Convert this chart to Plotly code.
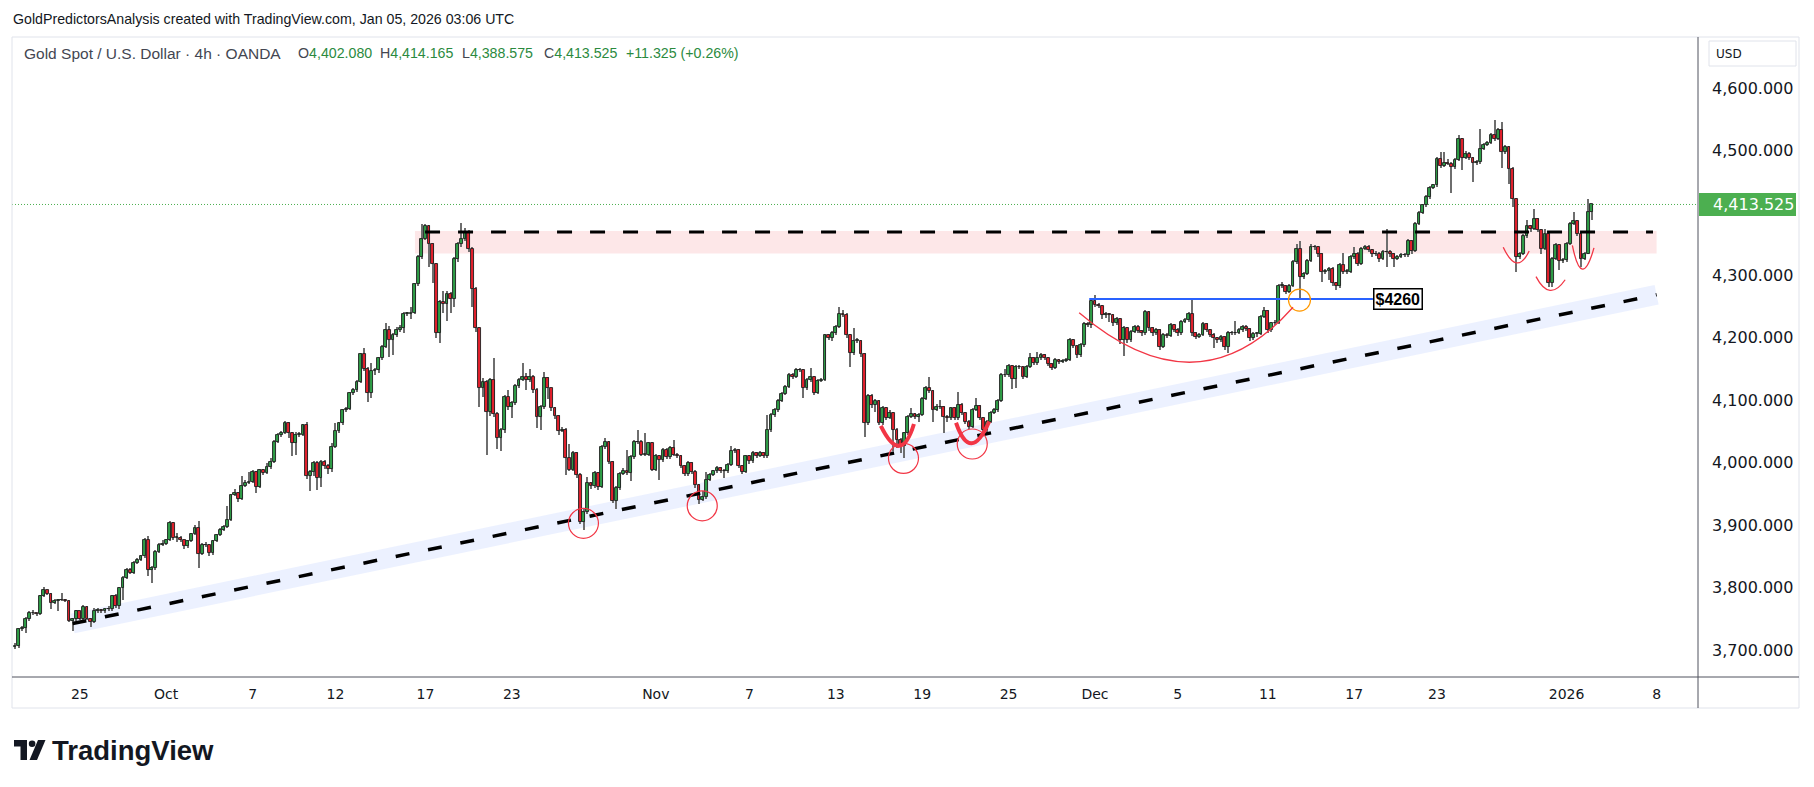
import plotly.graph_objects as go

# ---------------- data (4h candles, bar index = position) ----------------
first_open = 3705.0
close = [
3707,3733,3735,3749,3759,3759,3757,3786,3796,3790,
3776,3778,3780,3781,3779,3747,3749,3762,3750,3769,
3750,3745,3762,3764,3762,3765,3766,3786,3771,3799,
3816,3829,3824,3840,3845,3850,3877,3828,3831,3857,
3869,3870,3876,3903,3880,3880,3876,3866,3875,3886,
3895,3854,3868,3868,3855,3875,3884,3893,3897,3909,
3948,3951,3942,3963,3968,3969,3985,3961,3988,3984,
3993,4001,4034,4044,4048,4063,4048,4031,4045,4045,
4060,3978,3985,3999,3975,4001,3994,3990,4025,4051,
4063,4084,4086,4111,4116,4130,4174,4150,4112,4147,
4148,4167,4185,4213,4197,4204,4213,4215,4238,4238,
4240,4286,4329,4359,4379,4350,4318,4208,4257,4254,
4270,4262,4326,4350,4358,4370,4343,4278,4215,4119,
4130,4082,4133,4078,4040,4052,4105,4089,4095,4123,
4133,4138,4132,4138,4117,4073,4089,4135,4120,4087,
4075,4051,4053,4007,3989,4015,3981,3905,3921,3967,
3962,3983,3961,4025,4033,4001,3939,3959,3982,3986,
3984,4009,4033,4034,4013,4013,4031,3989,4011,4004,
4021,4009,4023,4013,4011,3995,3982,3999,3985,3964,
3941,3945,3973,3980,3986,3991,3987,3986,3996,4019,
4020,3995,3985,4010,4002,4015,4011,4015,4010,4052,
4076,4084,4099,4110,4122,4141,4137,4148,4148,4120,
4132,4137,4112,4131,4133,4204,4199,4207,4217,4238,
4237,4204,4176,4195,4195,4174,4063,4107,4092,4099,
4064,4088,4072,4080,4053,4036,4026,4047,4074,4078,
4073,4077,4102,4120,4115,4085,4090,4089,4073,4071,
4087,4071,4093,4079,4066,4058,4085,4091,4071,4052,
4066,4080,4084,4099,4140,4141,4155,4134,4154,4153,
4137,4154,4167,4159,4168,4172,4168,4158,4152,4164,
4161,4163,4165,4196,4187,4172,4188,4222,4221,4259,
4253,4251,4236,4238,4236,4223,4230,4196,4216,4196,
4210,4218,4211,4207,4241,4215,4207,4212,4186,4204,
4203,4220,4213,4207,4225,4228,4238,4207,4202,4205,
4222,4212,4205,4199,4196,4201,4185,4208,4207,4208,
4212,4218,4214,4199,4206,4206,4233,4243,4212,4223,
4224,4283,4283,4274,4283,4321,4343,4297,4302,4323,
4345,4345,4334,4306,4307,4311,4287,4283,4317,4306,
4306,4329,4335,4319,4343,4346,4340,4334,4335,4326,
4338,4337,4334,4326,4330,4333,4332,4355,4339,4383,
4400,4412,4425,4440,4444,4486,4475,4480,4479,4473,
4485,4518,4488,4495,4488,4480,4481,4503,4509,4512,
4525,4518,4533,4497,4505,4471,4422,4330,4335,4363,
4379,4374,4390,4373,4342,4367,4288,4327,4349,4323,
4324,4350,4382,4387,4367,4326,4334,4402.08,4413.525]
high = [
3711,3736,3739,3753,3762,3764,3760,3788,3801,3797,
3791,3782,3782,3791,3782,3780,3752,3764,3763,3772,
3771,3751,3768,3767,3766,3768,3771,3788,3790,3801,
3818,3831,3831,3843,3847,3852,3879,3882,3834,3860,
3871,3876,3878,3906,3905,3887,3882,3877,3877,3888,
3901,3907,3871,3873,3870,3877,3886,3896,3900,3931,
3950,3958,3953,3978,3972,3985,3988,3987,3990,3990,
3999,4008,4036,4048,4051,4067,4065,4049,4049,4050,
4062,4065,3988,4002,4003,4004,4004,3998,4031,4064,
4066,4086,4090,4113,4119,4132,4176,4184,4153,4160,
4151,4169,4188,4223,4219,4207,4218,4220,4241,4241,
4250,4288,4332,4382,4382,4381,4352,4320,4260,4275,
4275,4273,4330,4353,4384,4376,4372,4346,4282,4218,
4135,4132,4136,4167,4082,4055,4109,4117,4099,4126,
4136,4159,4143,4150,4140,4119,4092,4145,4138,4113,
4089,4077,4057,4055,4030,4018,4017,3983,3928,3977,
3969,3987,3985,4028,4039,4035,4003,3962,3985,3992,
4020,4012,4036,4053,4036,4047,4034,4033,4014,4013,
4024,4024,4026,4036,4016,4013,3997,4002,4001,3988,
3966,3955,3985,3983,3989,3994,3993,3990,3999,4027,
4024,4022,3997,4013,4012,4018,4017,4018,4017,4076,
4079,4087,4102,4113,4125,4144,4143,4151,4152,4150,
4135,4151,4139,4134,4136,4206,4206,4211,4220,4249,
4245,4239,4206,4216,4199,4197,4176,4110,4110,4102,
4101,4091,4090,4084,4082,4055,4040,4050,4076,4088,
4080,4080,4105,4123,4138,4117,4094,4100,4091,4076,
4090,4090,4113,4095,4081,4068,4088,4104,4093,4073,
4069,4083,4087,4102,4143,4150,4158,4157,4157,4157,
4155,4157,4175,4169,4178,4175,4174,4170,4160,4167,
4166,4166,4168,4199,4198,4189,4191,4225,4226,4262,
4268,4256,4253,4242,4240,4238,4233,4232,4219,4218,
4213,4221,4220,4213,4245,4243,4217,4215,4214,4207,
4207,4223,4222,4215,4228,4232,4241,4263,4210,4208,
4225,4224,4214,4207,4201,4204,4203,4211,4211,4227,
4215,4221,4220,4216,4209,4210,4236,4250,4245,4226,
4228,4286,4290,4285,4286,4324,4350,4355,4305,4326,
4350,4349,4347,4336,4311,4314,4313,4289,4320,4336,
4310,4332,4346,4337,4346,4349,4348,4342,4339,4337,
4341,4375,4340,4336,4333,4336,4336,4358,4357,4386,
4403,4415,4428,4443,4447,4489,4497,4497,4486,4482,
4488,4525,4520,4499,4497,4490,4485,4535,4512,4515,
4528,4549,4536,4545,4508,4507,4473,4424,4338,4366,
4388,4381,4406,4392,4375,4375,4369,4330,4352,4351,
4328,4353,4385,4402,4389,4369,4337,4422,4414.165]
low = [
3701,3704,3730,3728,3747,3756,3755,3756,3785,3788,
3765,3773,3763,3779,3777,3745,3731,3747,3748,3748,
3748,3737,3744,3760,3760,3759,3763,3763,3768,3765,
3781,3814,3822,3822,3838,3842,3848,3819,3807,3829,
3855,3867,3869,3874,3877,3873,3873,3862,3864,3873,
3884,3832,3852,3865,3850,3853,3873,3882,3891,3895,
3907,3946,3937,3940,3961,3966,3967,3951,3959,3980,
3982,3990,3999,4031,4041,4046,4040,4010,4012,4042,
4043,3974,3954,3978,3957,3961,3990,3982,3985,4023,
4048,4060,4082,4084,4108,4114,4128,4147,4098,4103,
4140,4144,4164,4183,4170,4173,4201,4210,4207,4235,
4230,4238,4283,4327,4356,4314,4288,4200,4192,4240,
4227,4240,4250,4322,4346,4355,4338,4250,4210,4090,
4105,4012,4075,4074,4022,4018,4048,4085,4072,4092,
4120,4131,4116,4129,4112,4055,4052,4086,4102,4083,
4070,4045,4049,3981,3986,3987,3976,3902,3893,3918,
3958,3960,3956,3959,4022,3998,3936,3926,3957,3980,
3980,3970,4006,4030,4010,4010,4011,3986,3987,3972,
4001,4006,4006,4010,4008,3992,3979,3979,3982,3960,
3934,3938,3942,3971,3978,3984,3984,3975,3983,3994,
4016,3992,3982,3983,3998,3999,4008,4009,4007,4008,
4050,4074,4082,4097,4108,4120,4134,4135,4145,4104,
4117,4130,4108,4110,4129,4131,4196,4195,4205,4215,
4233,4200,4153,4172,4192,4170,4042,4060,4088,4082,
4060,4061,4068,4070,4018,4023,4015,4007,4044,4072,
4070,4066,4075,4100,4112,4066,4083,4086,4048,4066,
4068,4068,4069,4076,4062,4054,4055,4083,4068,4048,
4050,4064,4078,4082,4097,4137,4138,4118,4119,4150,
4134,4135,4151,4156,4157,4165,4165,4155,4149,4150,
4158,4160,4161,4163,4184,4168,4169,4186,4218,4215,
4249,4247,4230,4232,4226,4219,4220,4190,4171,4192,
4194,4207,4208,4203,4205,4211,4203,4204,4180,4183,
4200,4201,4210,4203,4204,4224,4226,4203,4198,4200,
4203,4209,4201,4183,4192,4194,4181,4176,4204,4205,
4206,4210,4211,4195,4197,4202,4204,4231,4208,4209,
4220,4222,4279,4270,4272,4281,4319,4262,4294,4300,
4321,4340,4330,4290,4303,4293,4283,4277,4280,4302,
4302,4304,4327,4315,4317,4341,4337,4330,4331,4322,
4324,4313,4330,4313,4324,4328,4329,4330,4335,4337,
4381,4398,4410,4423,4438,4442,4472,4473,4476,4432,
4471,4483,4469,4486,4485,4450,4477,4479,4500,4507,
4510,4515,4516,4472,4494,4447,4409,4306,4326,4333,
4360,4370,4372,4369,4335,4340,4282,4282,4325,4308,
4320,4322,4348,4380,4363,4314,4324,4352,4388.575]

tick_index = [18, 42, 66, 89, 114, 138, 178, 204, 228, 252, 276, 300, 323, 348, 372, 395, 431, 456]
tick_label = ["25", "Oct", "7", "12", "17", "23", "Nov", "7", "13", "19", "25", "Dec",
              "5", "11", "17", "23", "2026", "8"]
price_ticks = [3700, 3800, 3900, 4000, 4100, 4200, 4300, 4500, 4600]
last_price = 4413.525
legend_title = "Gold Spot / U.S. Dollar · 4h · OANDA"
legend_keys = ["O", "H", "L", "C"]
legend_values = ["4,402.080", "4,414.165", "4,388.575", "4,413.525"]
legend_change = "+11.325 (+0.26%)"

# drawings: (bar index, price)
trend_line = [(16.0, 3742.5), (456.0, 4269.0)]
zone_box = [(111.1, 4335.0), (456.0, 4371.0)]
zone_line = [(113.9, 4369.5), (455.0, 4369.5)]
level_line = [(298.4, 4262.0), (377.2, 4262.0)]
level_label = (384.3, 4262.0, "$4260")
touch_circles = [(157.9, 3903.0), (190.9, 3931.0), (246.8, 4007.0), (265.9, 4030.0)]
retest_circle = (356.8, 4260.5)
swooshes = [[(240.5, 4059), (245.6, 4027), (249.7, 4062)],
            [(261.4, 4064), (265.7, 4031), (270.6, 4066)]]
arcs = [[(295.6, 4240), (327.0, 4161), (355.0, 4249)],
        [(413.4, 4345), (417.1, 4320), (420.6, 4339)],
        [(422.5, 4298), (426.4, 4276), (430.6, 4293)],
        [(432.6, 4348), (435.4, 4310), (438.6, 4344)]]

# ---------------- geometry ----------------
W, H = 1814, 787
PL, PR, PT, PB = 12, 1698, 37, 677
X_RANGE = [-0.833, 467.5]
Y_RANGE = [3656.9, 4681.7]


def px(x):
    return (x - PL) / (PR - PL)


def py(y):
    return (PB - y) / (PB - PT)


def ypix(price):
    return PB - (price - Y_RANGE[0]) / (Y_RANGE[1] - Y_RANGE[0]) * (PB - PT)


GREEN = "#2e9d47"
RED = "#e3202c"
OUTLINE = "#1f1f1f"
WICK = "#6e6e6e"

n = len(close)
opens = [first_open] + close[:-1]
idx = list(range(n))
hi = [max(h, o, c) for h, o, c in zip(high, opens, close)]
lo = [min(l, o, c) for l, o, c in zip(low, opens, close)]
body_base = [min(o, c) for o, c in zip(opens, close)]
body_h = [max(abs(c - o), 1.0) for o, c in zip(opens, close)]
fills = [GREEN if c >= o else RED for o, c in zip(opens, close)]

fig = go.Figure()
fig.add_trace(go.Bar(x=idx, y=[h - l for h, l in zip(hi, lo)], base=lo, width=0.3,
                     marker=dict(color=WICK, line=dict(width=0)), hoverinfo="skip",
                     showlegend=False))
fig.add_trace(go.Bar(x=idx, y=body_h, base=body_base, width=0.8,
                     marker=dict(color=fills, line=dict(color=OUTLINE, width=0.9)),
                     hoverinfo="skip", showlegend=False))

shapes = []
shapes.append(dict(type="rect", xref="x", yref="y", x0=zone_box[0][0], x1=zone_box[1][0],
                   y0=zone_box[0][1], y1=zone_box[1][1], fillcolor="rgba(242,54,69,0.12)",
                   line=dict(width=0), layer="below"))
shapes.append(dict(type="line", xref="x", yref="y", x0=trend_line[0][0], y0=trend_line[0][1],
                   x1=trend_line[1][0], y1=trend_line[1][1],
                   line=dict(color="rgba(41,98,255,0.09)", width=20), layer="below"))
shapes.append(dict(type="line", xref="paper", yref="paper", x0=0, x1=1,
                   y0=py(ypix(last_price)), y1=py(ypix(last_price)),
                   line=dict(color="#4caf50", width=1, dash="1px,2px"), layer="below"))
shapes.append(dict(type="line", xref="x", yref="y", x0=trend_line[0][0], y0=trend_line[0][1],
                   x1=trend_line[1][0], y1=trend_line[1][1],
                   line=dict(color="#000000", width=3.5, dash="14px,19px"), layer="above"))
shapes.append(dict(type="line", xref="x", yref="y", x0=zone_line[0][0], y0=zone_line[0][1],
                   x1=zone_line[1][0], y1=zone_line[1][1],
                   line=dict(color="#000000", width=3, dash="15px,18px"), layer="above"))
shapes.append(dict(type="line", xref="x", yref="y", x0=level_line[0][0], y0=level_line[0][1],
                   x1=level_line[1][0], y1=level_line[1][1],
                   line=dict(color="#2962ff", width=2), layer="above"))
for cx, cy in touch_circles:
    shapes.append(dict(type="circle", xref="x", yref="y", xsizemode="pixel", ysizemode="pixel",
                       xanchor=cx, yanchor=cy, x0=-15, x1=15, y0=-15, y1=15,
                       line=dict(color="#f23645", width=1.2), layer="above"))
shapes.append(dict(type="circle", xref="x", yref="y", xsizemode="pixel", ysizemode="pixel",
                   xanchor=retest_circle[0], yanchor=retest_circle[1], x0=-11, x1=11, y0=-11, y1=11,
                   line=dict(color="#ff9800", width=1.2), layer="above"))


def bezier(pts):
    (x0, y0), (xb, yb), (x2, y2) = pts
    cx = 2 * xb - 0.5 * (x0 + x2)
    cy = 2 * yb - 0.5 * (y0 + y2)
    return f"M {x0},{y0} Q {cx},{cy} {x2},{y2}"


for s in swooshes:
    shapes.append(dict(type="path", xref="x", yref="y", path=bezier(s),
                       line=dict(color="#f23645", width=4), layer="above"))
for a in arcs:
    shapes.append(dict(type="path", xref="x", yref="y", path=bezier(a),
                       line=dict(color="#f23645", width=1.3), layer="above"))

# pane frame and separators
shapes.append(dict(type="rect", xref="paper", yref="paper", x0=px(12), x1=px(1799), y0=py(708), y1=py(37),
                   line=dict(color="#e0e3eb", width=1), fillcolor="rgba(0,0,0,0)", layer="above"))
shapes.append(dict(type="line", xref="paper", yref="paper", x0=px(PR), x1=px(PR), y0=py(708), y1=py(37),
                   line=dict(color="#50535e", width=1), layer="above"))
shapes.append(dict(type="line", xref="paper", yref="paper", x0=px(12), x1=px(1799), y0=py(PB), y1=py(PB),
                   line=dict(color="#50535e", width=1), layer="above"))
shapes.append(dict(type="rect", xref="paper", yref="paper", x0=px(1709), x1=px(1796), y0=py(66), y1=py(41),
                   line=dict(color="#e0e3eb", width=1), fillcolor="white", layer="above"))
tag_y = ypix(last_price)
shapes.append(dict(type="rect", xref="paper", yref="paper", x0=px(1699), x1=px(1796),
                   y0=py(tag_y + 11.5), y1=py(tag_y - 11.5), fillcolor="#4caf50",
                   line=dict(width=0), layer="above"))
# TradingView logo icon
shapes.append(dict(type="rect", xref="paper", yref="paper", x0=px(14), x1=px(27), y0=py(746.5), y1=py(740),
                   fillcolor="#131722", line=dict(width=0)))
shapes.append(dict(type="rect", xref="paper", yref="paper", x0=px(20.5), x1=px(27), y0=py(760), y1=py(740),
                   fillcolor="#131722", line=dict(width=0)))
shapes.append(dict(type="circle", xref="paper", yref="paper", x0=px(28.8), x1=px(35.4), y0=py(747), y1=py(740.4),
                   fillcolor="#131722", line=dict(width=0)))
shapes.append(dict(type="path", xref="paper", yref="paper",
                   path=f"M {px(38)},{py(740)} L {px(45.5)},{py(740)} L {px(37)},{py(760)} L {px(29.5)},{py(760)} Z",
                   fillcolor="#131722", line=dict(width=0)))

annotations = []
annotations.append(dict(xref="paper", yref="paper", x=px(11), y=py(19), xanchor="left", yanchor="middle",
                        text="GoldPredictorsAnalysis created with TradingView.com, Jan 05, 2026 03:06 UTC",
                        showarrow=False, font=dict(family="Liberation Sans", size=14.2, color="#131722")))
gc = "#2b8a3e"
tc = "#434651"
annotations.append(dict(xref="paper", yref="paper", x=px(22), y=py(53.5), xanchor="left", yanchor="middle",
                        text=legend_title, showarrow=False,
                        font=dict(family="Liberation Sans", size=15.5, color=tc)))
legend_x = [296, 378, 460, 542, 624]
for k, (key, val) in enumerate(zip(legend_keys, legend_values)):
    annotations.append(dict(xref="paper", yref="paper", x=px(legend_x[k]), y=py(53.5), xanchor="left",
                            yanchor="middle", showarrow=False,
                            text=f"<span style='color:{tc}'>{key}</span><span style='color:{gc}'>{val}</span>",
                            font=dict(family="Liberation Sans", size=14.2, color=gc)))
annotations.append(dict(xref="paper", yref="paper", x=px(legend_x[4]), y=py(53.5), xanchor="left",
                        yanchor="middle", showarrow=False, text=legend_change,
                        font=dict(family="Liberation Sans", size=14.2, color=gc)))
annotations.append(dict(xref="x", yref="y", x=level_label[0], y=level_label[1], text=f"<b>{level_label[2]}</b>",
                        showarrow=False, xanchor="center", yanchor="middle", bgcolor="white",
                        bordercolor="#000000", borderwidth=1.5, borderpad=1,
                        font=dict(family="Liberation Sans", size=16, color="#000000")))
annotations.append(dict(xref="paper", yref="paper", x=px(1711), y=py(tag_y), xanchor="left", yanchor="middle",
                        text=f"{last_price:,.3f}", showarrow=False,
                        font=dict(family="DejaVu Sans", size=16, color="white")))
annotations.append(dict(xref="paper", yref="paper", x=px(1714), y=py(54), xanchor="left", yanchor="middle",
                        text="USD", showarrow=False,
                        font=dict(family="DejaVu Sans", size=12, color="#131722")))
annotations.append(dict(xref="paper", yref="paper", x=px(50), y=py(750), xanchor="left", yanchor="middle",
                        text="<b>TradingView</b>", showarrow=False,
                        font=dict(family="Liberation Sans", size=27.5, color="#131722")))

fig.update_layout(
    width=W, height=H, autosize=False,
    margin=dict(l=PL, r=W - PR, t=PT, b=H - PB, pad=0),
    paper_bgcolor="white", plot_bgcolor="white",
    barmode="overlay", bargap=0, showlegend=False,
    shapes=shapes, annotations=annotations,
    xaxis=dict(range=X_RANGE, tickmode="array", tickvals=tick_index, ticktext=tick_label,
               showgrid=False, zeroline=False, showline=False, ticks="", automargin=False,
               ticklabelstandoff=7, tickfont=dict(family="DejaVu Sans", size=14, color="#131722"),
               fixedrange=True),
    yaxis=dict(range=Y_RANGE, side="right", tickmode="array", tickvals=price_ticks, tickformat=",.3f",
               showgrid=False, zeroline=False, showline=False, ticks="", automargin=False,
               ticklabelstandoff=13, tickfont=dict(family="DejaVu Sans", size=16, color="#131722"),
               fixedrange=True),
)

fig.write_html("out.html")
